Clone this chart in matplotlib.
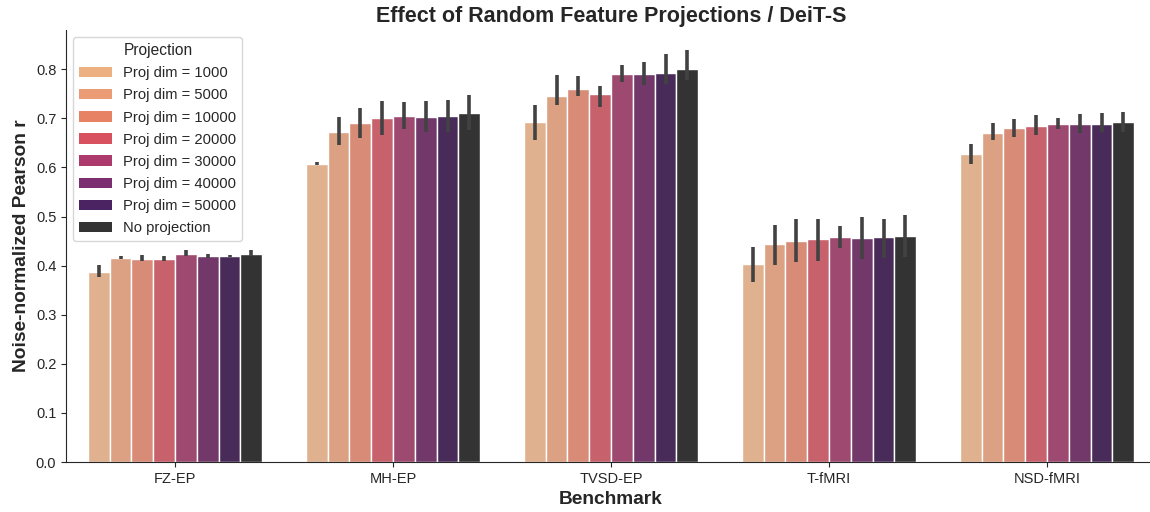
import numpy as np
import matplotlib
matplotlib.use("Agg")
import matplotlib.pyplot as plt
from matplotlib.patches import Patch
import seaborn as sns

benchmarks = ["FZ-EP", "MH-EP", "TVSD-EP", "T-fMRI", "NSD-fMRI"]
proj_dims = [1000, 5000, 10000, 20000, 30000, 40000, 50000]
projections = [f"Proj dim = {d}" for d in proj_dims] + ["No projection"]

# mean score per benchmark (rows) and projection (columns)
means = np.array([
    [0.387, 0.415, 0.413, 0.413, 0.423, 0.419, 0.419, 0.423],
    [0.607, 0.673, 0.690, 0.700, 0.705, 0.703, 0.705, 0.710],
    [0.693, 0.746, 0.760, 0.750, 0.790, 0.791, 0.793, 0.800],
    [0.403, 0.444, 0.450, 0.454, 0.458, 0.457, 0.458, 0.460],
    [0.627, 0.671, 0.680, 0.685, 0.688, 0.688, 0.689, 0.692],
])
err_low = np.array([
    [0.377, 0.413, 0.409, 0.409, 0.420, 0.416, 0.417, 0.420],
    [0.604, 0.646, 0.659, 0.667, 0.679, 0.673, 0.673, 0.676],
    [0.656, 0.727, 0.746, 0.724, 0.775, 0.768, 0.771, 0.779],
    [0.367, 0.401, 0.408, 0.410, 0.435, 0.413, 0.416, 0.417],
    [0.608, 0.655, 0.663, 0.667, 0.678, 0.671, 0.672, 0.673],
])
err_high = np.array([
    [0.401, 0.420, 0.422, 0.420, 0.432, 0.424, 0.422, 0.432],
    [0.611, 0.702, 0.722, 0.736, 0.733, 0.735, 0.738, 0.747],
    [0.727, 0.788, 0.787, 0.765, 0.808, 0.814, 0.832, 0.839],
    [0.437, 0.483, 0.494, 0.494, 0.481, 0.500, 0.495, 0.504],
    [0.648, 0.690, 0.699, 0.706, 0.700, 0.708, 0.710, 0.712],
])

sns.set_style("ticks")
plt.rcParams["font.family"] = ["Liberation Sans", "DejaVu Sans"]

# colour follows the projection dimension on the flare map
cmap = sns.color_palette("flare", as_cmap=True)
dims = np.array(proj_dims, dtype=float)
colors = [cmap(t) for t in (dims - dims.min()) / (dims.max() - dims.min())]
colors.append("#333333")

fig = plt.figure(figsize=(11.5, 5.12), dpi=100)
ax = fig.add_axes([66 / 1150, 50 / 512, 1090 / 1150, 432 / 512])

n = len(projections)
width = 0.8 / n
x = np.arange(len(benchmarks))
for j in range(n):
    pos = x - 0.4 + width * (j + 0.5)
    ax.bar(pos, means[:, j], width=width, color=sns.desaturate(colors[j], 0.75),
           edgecolor="white", linewidth=1)
    ax.vlines(pos, err_low[:, j], err_high[:, j], color=".26", linewidth=2.6)

ax.set_xlim(-0.5, 4.5)
ax.set_ylim(0, 0.88)
ax.set_xticks(x)
ax.set_xticklabels(benchmarks, fontsize=10.5)
ax.set_yticks(np.arange(0, 0.81, 0.1))
ax.set_yticklabels([f"{v:.1f}" for v in np.arange(0, 0.81, 0.1)], fontsize=10.5)
ax.tick_params(colors="#262626")
ax.set_xlabel("Benchmark", fontsize=13.8, fontweight="bold")
ax.set_ylabel("Noise-normalized Pearson r", fontsize=13.8, fontweight="bold")
ax.set_title("Effect of Random Feature Projections / DeiT-S", fontsize=15.5,
             fontweight="bold")
sns.despine(ax=ax)

handles = [Patch(facecolor=c, edgecolor="none") for c in colors]
ax.legend(handles, projections, title="Projection", loc="upper left",
          fontsize=10.6, title_fontsize=11.2, handlelength=2.2,
          labelspacing=0.55)

fig.savefig("out.png", dpi=100)
